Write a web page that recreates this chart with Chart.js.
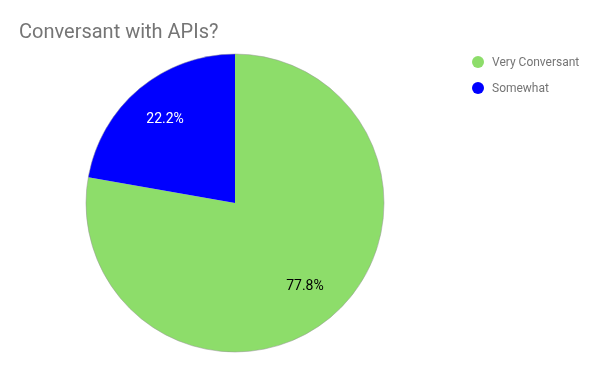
<!DOCTYPE html>
<html>
<head>
    <meta charset="utf-8" />
    <title>Conversant with APIs?</title>
    <style>
        html, body { margin: 0; padding: 0; background: #fff; }
        #wrap { width: 600px; height: 371px; position: relative; }
    </style>
</head>
<body>
    <div id="wrap">
        <canvas id="pieChart" width="600" height="371"></canvas>
    </div>

    <script src="https://cdn.jsdelivr.net/npm/chart.js"></script>
    <script>
        // data
        const titleText = 'Conversant with APIs?';
        const categories = ['Very Conversant', 'Somewhat'];
        const answers = [7, 2];
        const sliceColors = ['#8ddd6a', '#0000ff'];
        const labelColors = ['#000000', '#ffffff'];

        const greyText = '#757575';

        // title, legend and slice percentages drawn on the canvas
        const extras = {
            id: 'extras',
            afterDraw(chart) {
                const ctx = chart.ctx;
                ctx.save();

                ctx.fillStyle = greyText;
                ctx.font = '20px Roboto';
                ctx.textAlign = 'left';
                ctx.textBaseline = 'alphabetic';
                ctx.fillText(titleText, 19, 38);

                ctx.font = '12px Roboto';
                ctx.textBaseline = 'middle';
                categories.forEach((name, i) => {
                    const y = 62 + i * 26;
                    ctx.beginPath();
                    ctx.arc(478, y, 6, 0, Math.PI * 2);
                    ctx.fillStyle = sliceColors[i];
                    ctx.fill();
                    ctx.fillStyle = greyText;
                    ctx.fillText(name, 492, y + 1);
                });

                const total = answers.reduce((a, b) => a + b, 0);
                const meta = chart.getDatasetMeta(0);

                // faint grey rim around the pie
                const first = meta.data[0];
                ctx.beginPath();
                ctx.arc(first.x, first.y, first.outerRadius, 0, Math.PI * 2);
                ctx.strokeStyle = 'rgba(150,150,150,0.5)';
                ctx.lineWidth = 1;
                ctx.stroke();

                ctx.font = '14px Roboto';
                ctx.textAlign = 'center';
                meta.data.forEach((arc, i) => {
                    const p = arc.getProps(['x', 'y', 'startAngle', 'endAngle', 'outerRadius'], true);
                    const mid = (p.startAngle + p.endAngle) / 2;
                    const r = p.outerRadius * 0.73;
                    ctx.fillStyle = labelColors[i];
                    ctx.fillText((answers[i] / total * 100).toFixed(1) + '%',
                        p.x + Math.cos(mid) * r, p.y + Math.sin(mid) * r);
                });

                ctx.restore();
            }
        };

        new Chart(document.getElementById('pieChart'), {
            type: 'pie',
            data: {
                labels: categories,
                datasets: [{
                    data: answers,
                    backgroundColor: sliceColors,
                    borderWidth: 0
                }]
            },
            options: {
                responsive: false,
                animation: false,
                layout: {
                    padding: { left: 86, right: 216, top: 54, bottom: 19 }
                },
                plugins: {
                    legend: { display: false },
                    title: { display: false },
                    tooltip: { enabled: false }
                }
            },
            plugins: [extras]
        });
    </script>
</body>
</html>
